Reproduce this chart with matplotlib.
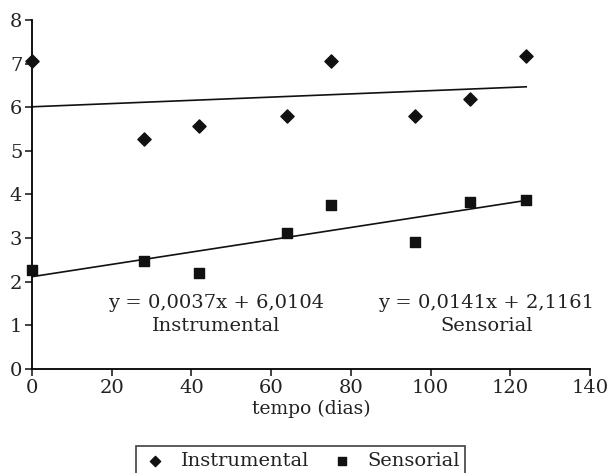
import matplotlib
matplotlib.use("Agg")
import matplotlib.pyplot as plt
import numpy as np

plt.rcParams['font.family'] = ['DejaVu Serif']

tempo = [0, 28, 42, 64, 75, 96, 110, 124]
instrumental = [7.05, 5.28, 5.57, 5.80, 7.07, 5.80, 6.20, 7.17]
sensorial = [2.27, 2.47, 2.20, 3.12, 3.77, 2.92, 3.83, 3.88]
fit_instr = (0.0037, 6.0104)
fit_sens = (0.0141, 2.1161)
xticks = [0, 20, 40, 60, 80, 100, 120, 140]
yticks = [0, 1, 2, 3, 4, 5, 6, 7, 8]

fig = plt.figure(figsize=(6.11, 4.73), dpi=100)
ax = fig.add_axes([0.0524, 0.2199, 0.9132, 0.7378])

xl = np.array([tempo[0], tempo[-1]])
ax.plot(xl, fit_instr[0] * xl + fit_instr[1], color='#111111', lw=1.2, zorder=2)
ax.plot(xl, fit_sens[0] * xl + fit_sens[1], color='#111111', lw=1.2, zorder=2)
ax.scatter(tempo, instrumental, marker='D', s=45, color='#111111', label='Instrumental', zorder=3, clip_on=False)
ax.scatter(tempo, sensorial, marker='s', s=45, color='#111111', label='Sensorial', zorder=3, clip_on=False)

ax.set_xlim(0, 140)
ax.set_ylim(0, 8)
ax.set_xticks(xticks)
ax.set_yticks(yticks)
for s in ['top', 'right']:
    ax.spines[s].set_visible(False)
for s in ['left', 'bottom']:
    ax.spines[s].set_linewidth(1.3)
ax.tick_params(direction='out', length=5, width=1.2, labelsize=14, colors='#222222', pad=2)
ax.set_xlabel('tempo (dias)', fontsize=13.5, color='#222222', labelpad=2)

ax.text(46.3, 1.25, 'y = 0,0037x + 6,0104\nInstrumental', ha='center', va='center',
        fontsize=14, color='#222222', linespacing=1.35)
ax.text(114, 1.25, 'y = 0,0141x + 2,1161\nSensorial', ha='center', va='center',
        fontsize=14, color='#222222', linespacing=1.35)

leg = fig.legend(loc='lower center', bbox_to_anchor=(0.492, -0.006), ncol=2, fontsize=14,
                 frameon=True, fancybox=False, edgecolor='#111111', markerscale=0.78,
                 handletextpad=0.6, columnspacing=1.0, borderpad=0.3, borderaxespad=0.0,
                 handlelength=1.4)
leg.get_frame().set_linewidth(1.2)
for t in leg.get_texts():
    t.set_color('#222222')

fig.savefig('out.png', dpi=100)
